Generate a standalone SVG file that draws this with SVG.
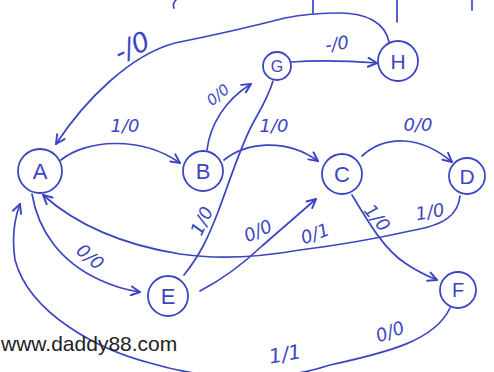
<svg xmlns="http://www.w3.org/2000/svg" width="494" height="372" viewBox="0 0 494 372">
<defs>
<marker id="arr" viewBox="0 0 10 10" refX="9" refY="5" markerWidth="11" markerHeight="11" markerUnits="userSpaceOnUse" orient="auto">
<path d="M1,1 L9,5 L1,9" fill="none" stroke="#3d46c2" stroke-width="1.8" stroke-linecap="round" stroke-linejoin="round"/>
</marker>
<style>
.n{fill:none;stroke:#3d46c2;stroke-width:1.8}
.nl{font-family:"Liberation Sans","DejaVu Sans",sans-serif;fill:#3d46c2;text-anchor:middle}
.e{fill:none;stroke:#3d46c2;stroke-width:1.7;stroke-linecap:round}
.ea{marker-end:url(#arr)}
.l{font-family:"DejaVu Sans","Liberation Sans",sans-serif;font-style:italic;fill:#3d46c2;text-anchor:middle;font-size:18px}
</style>
</defs>
<rect width="494" height="372" fill="#ffffff"/>
<g id="fragments" class="e">
<path d="M313,0 L313,13"/>
<path d="M397,0 L397,22"/>
<path d="M472,0 L472,10"/>
<path d="M176,0 Q172,4 174,8"/>
</g>
<g id="connectors">
<path class="e ea" d="M389,42 C385,22 365,13 340,13 C315,13 300,15 285,18 C250,27 205,37 175,43 C130,55 85,100 56,144"/>
<path class="e ea" d="M291,62 C320,60 350,61 377,63"/>
<path class="e ea" d="M61,160 C85,140 140,135 180,163"/>
<path class="e ea" d="M207,150 C210,125 225,100 251,84"/>
<path class="e" d="M184,275 C200,255 208,238 218,212 C230,180 240,148 252,125 C260,110 268,98 273,81"/>
<path class="e ea" d="M224,160 C245,143 285,137 318,161"/>
<path class="e ea" d="M362,156 C385,135 420,135 452,162"/>
<path class="e ea" d="M460,196 C458,215 445,225 410,231 C370,240 340,245 300,250 C260,257 220,260 180,254 C130,246 80,228 43,195"/>
<path class="e ea" d="M32,194 C38,230 60,262 100,280 C115,287 125,290 140,292"/>
<path class="e ea" d="M200,291 C225,278 245,262 262,246 L316,199"/>
<path class="e ea" d="M352,195 C370,225 385,250 405,263 C415,270 425,275 437,280"/>
<path class="e ea" d="M450,308 C435,340 390,352 330,365 C270,385 200,378 150,363 C100,350 30,315 15,260 C12,240 14,220 20,204"/>
<text class="l" x="132" y="56" transform="rotate(-25 132 47)" style="font-size:27px">-/0</text>
<text class="l" x="337" y="50" transform="rotate(-8 337 44)">-/0</text>
<text class="l" x="125" y="132">1/0</text>
<text class="l" x="218" y="100" transform="rotate(-40 218 95)" style="font-size:15px">0/0</text>
<text class="l" x="274" y="132">1/0</text>
<text class="l" x="418" y="131">0/0</text>
<text class="l" x="202" y="227" transform="rotate(-65 202 221)">1/0</text>
<text class="l" x="258" y="237" transform="rotate(-25 258 231)">0/0</text>
<text class="l" x="315" y="240" transform="rotate(-20 315 234)">0/1</text>
<text class="l" x="377" y="224" transform="rotate(50 377 218)">1/0</text>
<text class="l" x="430" y="218" transform="rotate(-10 430 212)">1/0</text>
<text class="l" x="90" y="263" transform="rotate(40 90 257)">0/0</text>
<text class="l" x="390" y="338" transform="rotate(-20 390 332)">0/0</text>
<text class="l" x="285" y="361" transform="rotate(-10 285 354)" style="font-size:20px">1/1</text>
</g>
<g id="A"><circle class="n" cx="40" cy="171" r="22"/><text class="nl" x="40" y="179" font-size="22">A</text></g>
<g id="B"><circle class="n" cx="203" cy="171" r="20"/><text class="nl" x="203" y="179" font-size="22">B</text></g>
<g id="C"><circle class="n" cx="342" cy="174" r="20"/><text class="nl" x="342" y="182" font-size="22">C</text></g>
<g id="D"><circle class="n" cx="467" cy="176" r="18"/><text class="nl" x="467" y="184" font-size="21">D</text></g>
<g id="E"><circle class="n" cx="168" cy="296" r="20"/><text class="nl" x="168" y="304" font-size="22">E</text></g>
<g id="F"><circle class="n" cx="458" cy="290" r="18"/><text class="nl" x="458" y="297" font-size="20">F</text></g>
<g id="G"><circle class="n" cx="277" cy="66" r="14"/><text class="nl" x="277" y="72" font-size="16">G</text></g>
<g id="H"><circle class="n" cx="398" cy="61" r="20"/><text class="nl" x="398" y="69" font-size="21">H</text></g>
<text x="1" y="351" font-family="Liberation Sans, Arial, sans-serif" font-size="21" fill="#222222">www.daddy88.com</text>
</svg>
